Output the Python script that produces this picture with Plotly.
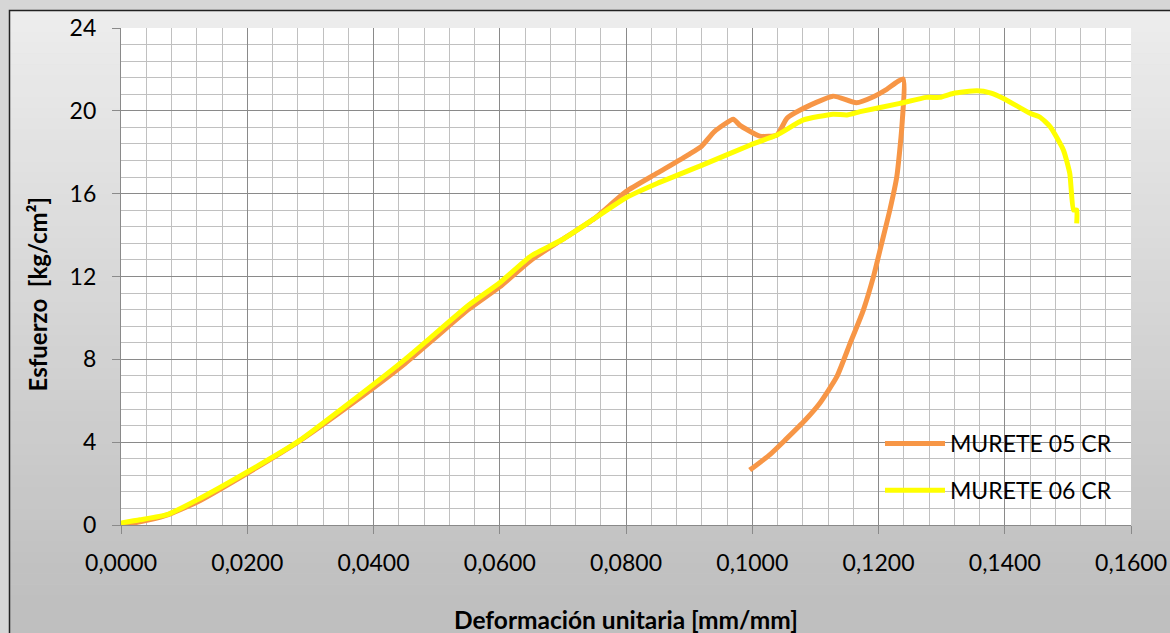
import plotly.graph_objects as go

# ---- data ----
m05_x = [0, 0.003, 0.007, 0.012, 0.020, 0.028, 0.037, 0.045, 0.050, 0.055, 0.060, 0.065,
         0.070, 0.075, 0.080, 0.085, 0.090, 0.092, 0.094, 0.097, 0.098, 0.1012, 0.1039,
         0.1055, 0.1076, 0.1128, 0.1165, 0.1192, 0.1213, 0.1239,
         0.1237, 0.1229, 0.1218, 0.1205, 0.1192, 0.1176, 0.1155, 0.1134, 0.1107,
         0.1084, 0.1052, 0.1028, 0.0996]
m05_y = [0, 0.15, 0.45, 1.1, 2.5, 4.0, 5.95, 7.8, 9.1, 10.4, 11.5, 12.8,
         13.8, 14.8, 16.1, 17.0, 17.9, 18.3, 19.0, 19.59, 19.31, 18.78, 18.83,
         19.64, 20.04, 20.71, 20.39, 20.68, 21.04, 21.54,
         19.23, 16.82, 15.21, 13.6, 11.99, 10.38, 8.77, 7.16, 5.88,
         5.07, 4.1, 3.4, 2.65]

m06_x = [0, 0.003, 0.0073, 0.012, 0.020, 0.0279, 0.0368, 0.045, 0.050, 0.055, 0.060, 0.065,
         0.070, 0.075, 0.080, 0.085, 0.0917, 0.0997, 0.1039, 0.1081, 0.1128, 0.1150, 0.1171,
         0.1234, 0.1276, 0.1297, 0.1318, 0.1356, 0.1377, 0.1398, 0.1440, 0.1456, 0.1472,
         0.1493, 0.1503, 0.1509, 0.1514, 0.1514]
m06_y = [0.1, 0.25, 0.5, 1.2, 2.56, 4.0, 6.04, 8.0, 9.3, 10.6, 11.7, 13.0,
         13.8, 14.8, 15.8, 16.5, 17.33, 18.35, 18.83, 19.56, 19.84, 19.8, 19.96,
         20.36, 20.65, 20.65, 20.84, 20.97, 20.87, 20.6, 19.88, 19.69, 19.23,
         18.1, 16.98, 15.21, 15.21, 14.57]

series_names = ["MURETE 05 CR", "MURETE 06 CR"]
x_title = "Deformación unitaria [mm/mm]"
y_title = "Esfuerzo  [kg/cm²]"

# ---- layout geometry ----
W, H = 1170, 633
L, R, T, B = 121, 39, 28, 108
PW, PH = W - L - R, H - T - B
FONT = "Lato"

def px2paper_x(px):
    return (px - L) / PW

def px2paper_y(py):
    return (H - B - py) / PH

fig = go.Figure()
fig.add_trace(go.Scatter(x=m05_x, y=m05_y, mode="lines", name=series_names[0],
                         legendgroup="a",
                         line=dict(color="#F79646", width=5, shape="spline", smoothing=0.5)))
fig.add_trace(go.Scatter(x=m06_x, y=m06_y, mode="lines", name=series_names[1],
                         legendgroup="b",
                         line=dict(color="#FFFF00", width=5, shape="spline", smoothing=0.5)))

# background gradient strips
shapes = []
top_px, bot_px = 10, 600
c_top, c_bot = 237, 191
N = 60
for i in range(N):
    y0 = top_px + (660 - top_px) * i / N
    y1 = top_px + (660 - top_px) * (i + 1) / N + 0.5
    t = min(1.0, max(0.0, ((y0 + y1) / 2 - top_px) / (bot_px - top_px)))
    c = round(c_top + (c_bot - c_top) * t)
    shapes.append(dict(type="rect", xref="paper", yref="paper", layer="below",
                       x0=px2paper_x(9), x1=px2paper_x(1200),
                       y0=px2paper_y(y0), y1=px2paper_y(y1),
                       fillcolor=f"rgb({c},{c},{c})", line=dict(width=0)))
# outer border
shapes.append(dict(type="rect", xref="paper", yref="paper", layer="below",
                   x0=px2paper_x(9.5), x1=px2paper_x(1200),
                   y0=px2paper_y(660), y1=px2paper_y(10.5),
                   fillcolor="rgba(0,0,0,0)", line=dict(color="#222222", width=1.5)))
# white plot area
shapes.append(dict(type="rect", xref="x domain", yref="y domain", layer="below",
                   x0=0, x1=1, y0=0, y1=1, fillcolor="white", line=dict(width=0)))

fig.update_layout(
    width=W, height=H,
    margin=dict(l=L, r=R, t=T, b=B, autoexpand=False),
    paper_bgcolor="#d6d6d6", plot_bgcolor="white",
    separators=",.",
    font=dict(family=FONT, size=23, color="#000000"),
    shapes=shapes,
    showlegend=True,
    legend=dict(x=px2paper_x(880), y=px2paper_y(422), xanchor="left", yanchor="top",
                bgcolor="rgba(0,0,0,0)", font=dict(family=FONT, size=23, color="#000"),
                tracegroupgap=14, itemwidth=60),
    annotations=[
        dict(text=f"<b>{x_title}</b>", xref="paper", yref="paper",
             x=0.5, y=px2paper_y(619), xanchor="center", yanchor="middle",
             showarrow=False, font=dict(family=FONT, size=24.5, color="#000")),
        dict(text=f"<b>{y_title}</b>", xref="paper", yref="paper",
             x=px2paper_x(37), y=px2paper_y(294.5), xanchor="center", yanchor="middle",
             textangle=-90,
             showarrow=False, font=dict(family=FONT, size=24, color="#000")),
    ],
)

fig.update_xaxes(range=[0, 0.16], dtick=0.02, tick0=0, tickformat=".4f",
                 automargin=False,
                 showgrid=True, gridcolor="#8a8a8a", gridwidth=1.3,
                 showline=True, linecolor="#8a8a8a", linewidth=1.3,
                 ticks="outside", ticklen=8, tickcolor="#8a8a8a", tickwidth=1.3,
                 ticklabelstandoff=9,
                 zeroline=False, mirror=False,
                 minor=dict(dtick=0.004, tick0=0, showgrid=True, gridcolor="#c0c0c0", gridwidth=1.3),
                 tickfont=dict(family=FONT, size=23, color="#000"))
fig.update_yaxes(range=[0, 24], dtick=4, tick0=0,
                 automargin=False,
                 showgrid=True, gridcolor="#8a8a8a", gridwidth=1.3,
                 showline=True, linecolor="#8a8a8a", linewidth=1.3,
                 ticks="outside", ticklen=8, tickcolor="#8a8a8a", tickwidth=1.3,
                 ticklabelstandoff=11,
                 zeroline=False,
                 minor=dict(dtick=0.8, tick0=0, showgrid=True, gridcolor="#c0c0c0", gridwidth=1.3),
                 tickfont=dict(family=FONT, size=23, color="#000"))

fig.write_html("out.html",
               config={"displayModeBar": False},
               post_script="document.body.style.margin='0';document.body.style.overflow='hidden';")
